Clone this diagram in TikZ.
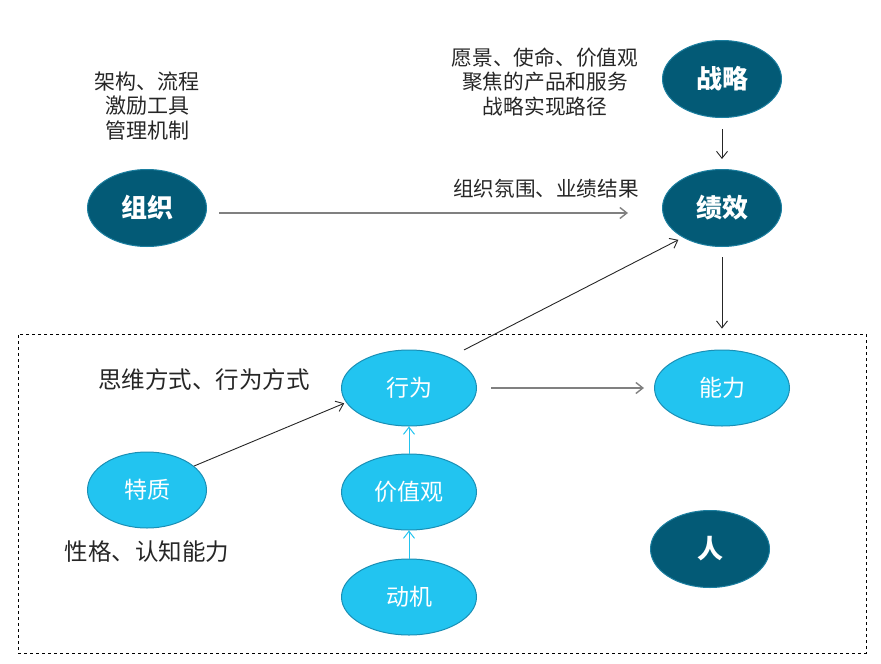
\documentclass[tikz,border=0pt]{standalone}
\usepackage{fontspec}
\setmainfont{Noto Sans CJK SC}
\usetikzlibrary{shapes.geometric, arrows.meta}
\definecolor{darkfill}{HTML}{035A76}
\definecolor{darkedge}{HTML}{1C7FA0}
\definecolor{lightfill}{HTML}{22C4F0}
\definecolor{lightedge}{HTML}{1A8FB5}
\definecolor{notegray}{HTML}{262626}
\definecolor{linegray}{HTML}{808080}
\begin{document}
\begin{tikzpicture}[x=1pt, y=-1pt]

      \tikzset{dark/.style={ellipse, draw=darkedge, fill=darkfill, text=white, line width=1pt, inner sep=0pt, minimum width=119pt, minimum height=77pt, font=\fontsize{26}{30}\selectfont\bfseries}}
      \tikzset{light/.style={ellipse, draw=lightedge, fill=lightfill, text=white, line width=1pt, inner sep=0pt, minimum width=135pt, minimum height=76pt, font=\fontsize{23}{27}\selectfont}}
      \tikzset{note/.style={align=center, text=notegray, inner sep=0pt}}
      \useasboundingbox (0,0) rectangle (881,664);
%% Box
      	\node[draw, dashed, line width=0.8pt, inner sep=0pt, minimum width=848pt, minimum height=319pt] (box) at (442,493.5) {};
%% Vertices
      	\node[dark] (org) at (147,208) {组织};
      	\node[dark] (strat) at (722,79) {战略};
      	\node[dark] (perf) at (722,208) {绩效};
      	\node[dark] (person) at (710,549) {人};
      	\node[light] (beh) at (409,388) {行为};
      	\node[light] (val) at (409,492) {价值观};
      	\node[light] (mot) at (409,597) {动机};
      	\node[light, minimum width=119pt] (trait) at (147,490) {特质};
      	\node[light] (abil) at (722,388) {能力};
%% Notes
      	\node[note, font=\fontsize{21}{24.5}\selectfont] (orgnote) at (147,106) {架构、流程\\激励工具\\管理机制};
      	\node[note, font=\fontsize{20.7}{24.5}\selectfont] (stratnote) at (545,82) {愿景、使命、价值观\\聚焦的产品和服务\\战略实现路径};
      	\node[note, font=\fontsize{20.6}{24}\selectfont] (perfnote) at (546,189) {组织氛围、业绩结果};
      	\node[note, font=\fontsize{23.5}{27}\selectfont] (behnote) at (204,380) {思维方式、行为方式};
      	\node[note, font=\fontsize{23.5}{27}\selectfont] (traitnote) at (147,552) {性格、认知能力};
%Edges
		\path [->, > = {Straight Barb[length=7pt, width=11pt]}, color=linegray, line width=1.4pt, shorten <=12pt, shorten >=34pt] ([yshift=-5pt]org.east) edge ([yshift=-5pt]perf.west);
		\path [->, > = {Straight Barb[length=7pt, width=11pt]}, color=notegray, line width=0.9pt, shorten <=11pt, shorten >=10pt] (strat) edge (perf);
		\path [->, > = {Straight Barb[length=7pt, width=11pt]}, color=notegray, line width=0.9pt, shorten <=10pt, shorten >=5pt] (perf.south) edge (perf.south |- box.north);
		\path [->, > = {Straight Barb[length=7pt, width=11pt]}, color=notegray, line width=0.9pt, shorten <=16pt, shorten >=5pt] (beh.37) edge (perf.217);
		\path [->, > = {Straight Barb[length=7pt, width=11pt]}, color=notegray, line width=0.9pt, shorten >=2pt] (trait.27) edge (beh.193);
		\path [->, > = {Straight Barb[length=7pt, width=11pt]}, color=linegray, line width=1.4pt, shorten <=14pt, shorten >=10pt] (beh) edge (abil);
		\path [->, > = {Straight Barb[length=7pt, width=11pt]}, color=lightfill, line width=1pt] (val) edge (beh);
		\path [->, > = {Straight Barb[length=7pt, width=11pt]}, color=lightfill, line width=1pt] (mot) edge (val);

	\end{tikzpicture}
\end{document}
